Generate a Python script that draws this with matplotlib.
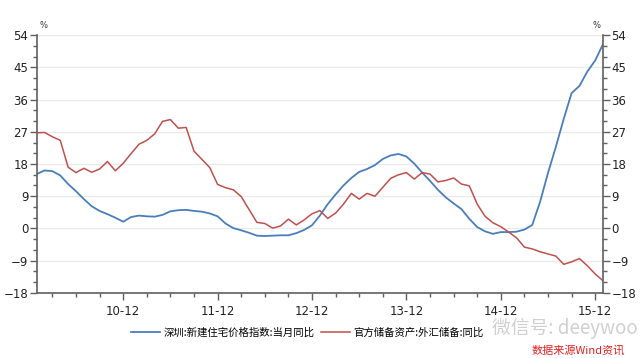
import matplotlib
matplotlib.use("Agg")
import matplotlib.pyplot as plt
from matplotlib.ticker import MultipleLocator, FixedLocator

# Monthly data, Jan 2010 .. Jan 2016
months = [f"{y}-{m:02d}" for y in range(2010, 2017) for m in range(1, 13)][:73]

shenzhen_yoy = [15.2, 16.2, 16.0, 14.8, 12.4, 10.4, 8.2, 6.2, 4.9, 4.0, 3.0, 1.9,
                3.2, 3.6, 3.4, 3.3, 3.8, 4.8, 5.1, 5.2, 4.9, 4.7, 4.2, 3.4,
                1.4, 0.1, -0.5, -1.2, -2.0, -2.1, -2.0, -1.9, -1.9, -1.3, -0.4, 0.9,
                3.6, 6.8, 9.5, 12.0, 14.1, 15.8, 16.6, 17.7, 19.4, 20.4, 20.8, 20.1,
                18.1, 15.6, 13.3, 10.8, 8.7, 7.0, 5.4, 2.7, 0.4, -0.8, -1.5, -1.0,
                -1.0, -0.9, -0.3, 1.0, 7.5, 15.5, 22.8, 30.6, 37.8, 39.8, 43.8, 46.9,
                51.5]

reserves_yoy = [26.7, 26.8, 25.6, 24.6, 17.1, 15.6, 16.8, 15.7, 16.6, 18.7, 16.1, 18.2,
                20.9, 23.5, 24.6, 26.4, 29.9, 30.4, 28.0, 28.2, 21.6, 19.3, 17.0, 12.3,
                11.4, 10.8, 8.9, 5.3, 1.7, 1.4, 0.1, 0.7, 2.6, 1.0, 2.4, 4.1,
                5.0, 2.8, 4.3, 6.8, 9.8, 8.2, 9.8, 9.0, 11.5, 14.0, 15.0, 15.6,
                13.8, 15.6, 15.2, 13.0, 13.4, 14.1, 12.4, 11.9, 6.8, 3.4, 1.6, 0.5,
                -1.0, -2.6, -5.2, -5.7, -6.5, -7.1, -7.7, -10.0, -9.3, -8.4, -10.4, -12.7,
                -14.6]

tick_labels = ["10-12", "11-12", "12-12", "13-12", "14-12", "15-12"]
series_names = ["深圳:新建住宅价格指数:当月同比", "官方储备资产:外汇储备:同比"]

cjk = ["Noto Sans CJK SC", "DejaVu Sans"]

fig = plt.figure(figsize=(6.4, 3.58), dpi=100)
ax = fig.add_axes([0.0573, 0.1816, 0.885, 0.7206])

x = list(range(len(months)))
l1, = ax.plot(x, shenzhen_yoy, color="#4a7ebb", lw=1.3)
l2, = ax.plot(x, reserves_yoy, color="#c0504d", lw=1.1)

ax.set_xlim(0, len(months) - 1)
ax.set_ylim(-18, 54)

major_x = [months.index(f"20{t[:2]}-12") for t in tick_labels]
ax.xaxis.set_major_locator(FixedLocator(major_x))
ax.set_xticklabels(tick_labels)
minor_x = [i for i, m in enumerate(months) if int(m[5:]) % 3 == 0 and i not in major_x]
ax.xaxis.set_minor_locator(FixedLocator(minor_x))

ax.yaxis.set_major_locator(MultipleLocator(9))
ax.yaxis.set_minor_locator(MultipleLocator(3))
ax.yaxis.set_ticks_position("both")
ax.tick_params(axis="y", which="both", labelright=True, direction="out", colors="#606060",
               labelcolor="#222222", labelsize=8.5)
ax.tick_params(axis="y", which="major", length=5, width=1, pad=1)
ax.tick_params(axis="y", which="minor", length=3, width=1)
ax.tick_params(axis="x", which="major", length=5, width=1, colors="#606060",
               labelcolor="#222222", labelsize=8.5, pad=4)
ax.tick_params(axis="x", which="minor", length=3, width=1, colors="#606060")

ax.grid(axis="y", which="major", color="#ebebeb", lw=1)
ax.set_axisbelow(True)
for s in ["left", "right", "bottom"]:
    ax.spines[s].set_color("#606060")
    ax.spines[s].set_linewidth(1.2)
ax.spines["top"].set_visible(False)

fig.text(0.062, 0.915, "%", fontsize=6, color="#333333", ha="left", va="bottom")
fig.text(0.938, 0.915, "%", fontsize=6, color="#333333", ha="right", va="bottom")

leg = fig.legend([l1, l2], series_names, loc="center", bbox_to_anchor=(0.48, 0.07),
                 ncol=2, frameon=False, prop={"family": cjk, "size": 7.5},
                 handlelength=2.8, columnspacing=0.6, handletextpad=0.3)

fig.text(0.768, 0.082, "微信号: deeywoo", fontsize=13.5, color="#c8c8c8",
         family=cjk, ha="left", va="center", alpha=0.85)
fig.text(0.977, 0.02, "数据来源Wind资讯", fontsize=8, color="#e02020",
         family=cjk, ha="right", va="center", style="italic")

fig.savefig("out.png", dpi=100, facecolor="white")
